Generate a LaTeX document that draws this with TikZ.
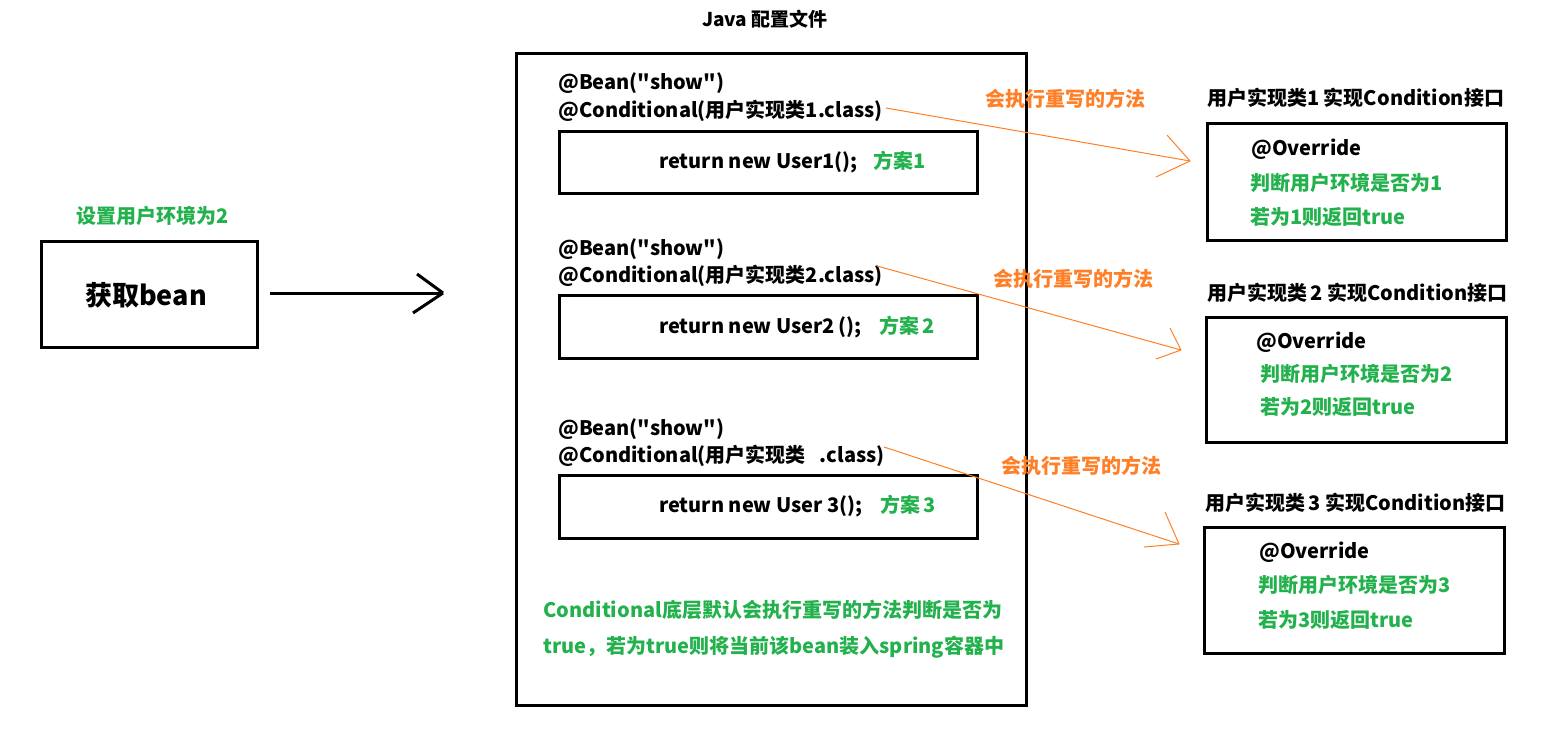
\documentclass[tikz,border=0pt]{standalone}
\usepackage{fontspec}
\newfontfamily\cjk{Noto Sans CJK SC}
\definecolor{pgreen}{HTML}{22B14C}
\definecolor{porange}{HTML}{FF7F27}
\begin{document}
\begin{tikzpicture}[x=1pt,y=-1pt,
  txt/.style={inner sep=0pt, anchor=base west, font=\cjk\fontsize{20}{24}\selectfont\bfseries},
  gtxt/.style={txt, text=pgreen},
  otxt/.style={txt, text=porange},
  box/.style={draw, line width=3pt, anchor=north west, inner sep=0pt},
  oline/.style={draw=porange, line width=1pt},
  bline/.style={draw=black, line width=3pt}]
\useasboundingbox (0,0) rectangle (1565,728);

% title and main box
\node[txt, anchor=base, font=\cjk\fontsize{19}{23}\selectfont\bfseries] (title) at (765,26) {Java 配置文件};
\node[box, minimum width=510pt, minimum height=652pt] (cfg) at (515,52) {};

% left
\node[gtxt] (env) at (76,223) {设置用户环境为2};
\node[box, minimum width=216pt, minimum height=106pt] (get) at (40,240) {};
\node[txt, anchor=base, font=\cjk\fontsize{27}{32}\selectfont\bfseries] (getl) at (146,305) {获取bean};
\coordinate (a0) at (270,293);
\coordinate (a1) at (443,293);
\draw[bline] (a0) -- (a1);
\draw[bline] (a1) -- ++(-26,-19);
\draw[bline] (a1) -- ++(-30,20);

% group 1
\node[txt] (bean1) at (558,89) {@Bean("show")};
\node[txt] (cond1) at (558,117) {@Conditional(用户实现类1.class)};
\node[box, minimum width=418pt, minimum height=62pt] (ret1box) at (558,130) {};
\node[txt] (ret1) at (659,168) {return new User1();};
\node[gtxt] (plan1) at (873,168) {方案1};

% group 2
\node[txt] (bean2) at (558,255) {@Bean("show")};
\node[txt] (cond2) at (558,282) {@Conditional(用户实现类2.class)};
\node[box, minimum width=418pt, minimum height=63pt] (ret2box) at (558,294) {};
\node[txt] (ret2) at (659,333) {return new User2\,();};
\node[gtxt] (plan2) at (879,333) {方案\,2};

% group 3
\node[txt] (bean3) at (558,435) {@Bean("show")};
\node[txt] (cond3) at (558,462) {@Conditional(用户实现类\hspace{14pt}.class)};
\node[box, minimum width=418pt, minimum height=63pt] (ret3box) at (558,474) {};
\node[txt] (ret3) at (659,512) {return new User 3();};
\node[gtxt] (plan3) at (880,512) {方案\,3};

% bottom note
\node[gtxt] (note1) at (543,617) {Conditional底层默认会执行重写的方法判断是否为};
\node[gtxt] (note2) at (543,653) {true，若为true则将当前该bean装入spring容器中};

% right group 1
\node[txt] (r1t) at (1207,105) {用户实现类1 实现Condition接口};
\node[box, minimum width=299pt, minimum height=117pt] (r1) at (1206,122) {};
\node[txt] (r1a) at (1251,155) {@Override};
\node[gtxt] (r1b) at (1250,190) {判断用户环境是否为1};
\node[gtxt] (r1c) at (1250,224) {若为1则返回true};

% right group 2
\node[txt] (r2t) at (1207,300) {用户实现类\,2 实现Condition接口};
\node[box, minimum width=300pt, minimum height=125pt] (r2) at (1205,316) {};
\node[txt] (r2a) at (1256,348) {@Override};
\node[gtxt] (r2b) at (1260,381) {判断用户环境是否为2};
\node[gtxt] (r2c) at (1260,414) {若为2则返回true};

% right group 3
\node[txt] (r3t) at (1205,510) {用户实现类\,3 实现Condition接口};
\node[box, minimum width=300pt, minimum height=126pt] (r3) at (1203,526) {};
\node[txt] (r3a) at (1259,558) {@Override};
\node[gtxt] (r3b) at (1258,592) {判断用户环境是否为3};
\node[gtxt] (r3c) at (1258,627) {若为3则返回true};

% orange connectors
\node[otxt] (o1) at (985,106) {会执行重写的方法};
\node[otxt] (o2) at (993,286) {会执行重写的方法};
\node[otxt] (o3) at (1001,473) {会执行重写的方法};

\coordinate (s1) at (886,108);
\coordinate (t1) at (1190,161);
\draw[oline] (s1) -- (t1);
\draw[oline] (t1) -- ++(-23,-26);
\draw[oline] (t1) -- ++(-34,16);

\coordinate (s2) at (877,266);
\coordinate (t2) at (1181,350);
\draw[oline] (s2) -- (t2);
\draw[oline] (t2) -- ++(-11,-22);
\draw[oline] (t2) -- ++(-25,9);

\coordinate (s3) at (884,447);
\coordinate (t3) at (1179,544);
\draw[oline] (s3) -- (t3);
\draw[oline] (t3) -- ++(-14,-32);
\draw[oline] (t3) -- ++(-35,3);
\end{tikzpicture}
\end{document}
